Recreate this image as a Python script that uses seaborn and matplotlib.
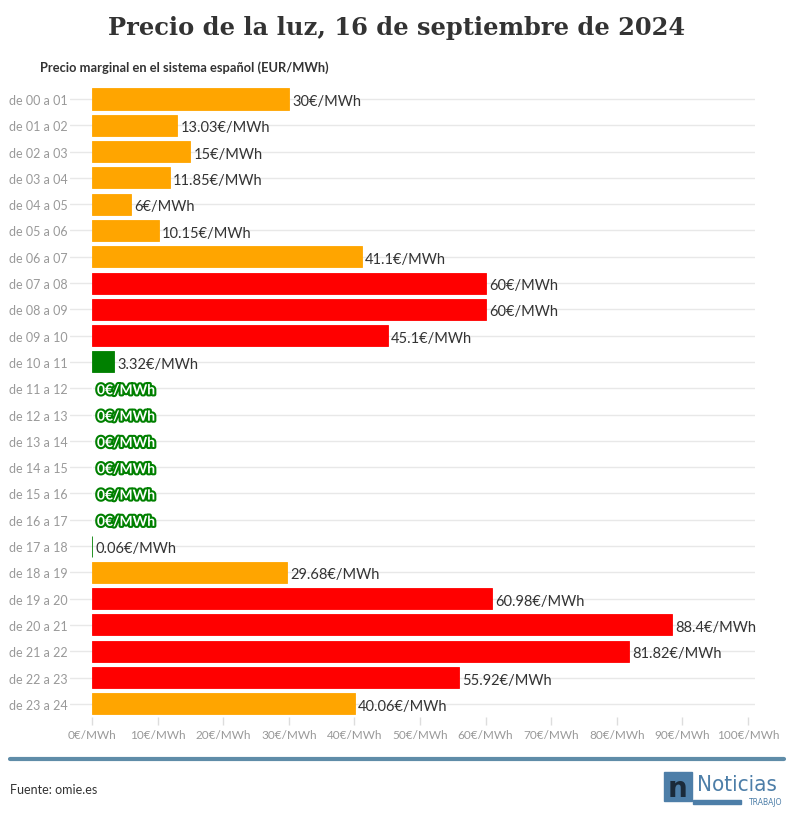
import matplotlib
matplotlib.use("Agg")
import matplotlib.pyplot as plt
import matplotlib.patheffects as pe
from matplotlib.patches import Rectangle
import seaborn as sns
import numpy as np

# Data
hours = [f"de {h:02d} a {h + 1:02d}" for h in range(24)]
prices = [30, 13.03, 15, 11.85, 6, 10.15, 41.1, 60, 60, 45.1, 3.32, 0, 0, 0, 0, 0, 0,
          0.06, 29.68, 60.98, 88.4, 81.82, 55.92, 40.06]
price_labels = ["30", "13.03", "15", "11.85", "6", "10.15", "41.1", "60", "60", "45.1", "3.32",
                "0", "0", "0", "0", "0", "0", "0.06", "29.68", "60.98", "88.4", "81.82",
                "55.92", "40.06"]
x_ticks = list(range(0, 101, 10))

def bar_color(v):
    if v < 5:
        return "#008000"
    if v > 45:
        return "#ff0000"
    return "#ffa500"

colors = [bar_color(v) for v in prices]

sns.set_theme(style="white")
plt.rcParams["font.family"] = ["Lato", "DejaVu Sans"]

fig = plt.figure(figsize=(7.94, 8.2), dpi=100)
ax = fig.add_axes([0.0882, 0.1244, 0.8627, 0.7697])

sns.barplot(x=prices, y=hours, hue=hours, palette=colors, legend=False,
            orient="h", width=0.8, ax=ax, zorder=3, saturation=1)
# thin outline so tiny values (0.06) still show as a sliver
for bar, c, v in zip(ax.patches, colors, prices):
    if v > 0:
        bar.set_edgecolor(c)
        bar.set_linewidth(0.6)

ax.set_xlim(-3.35, 101.07)
ax.set_ylim(23.5, -0.5)
for i in range(24):
    ax.axhline(i, color="#e8e8e8", lw=1, zorder=1)

for s in ax.spines.values():
    s.set_visible(False)

ax.set_xticks(x_ticks)
ax.set_xticklabels([f"{t}€/MWh" for t in x_ticks], color="#999999", fontsize=8.5)
ax.tick_params(axis="x", length=6, color="#dddddd", width=1, pad=3, bottom=True)
ax.tick_params(axis="y", length=0, pad=2, labelsize=9, labelcolor="#999999")
ax.set_xlabel("")
ax.set_ylabel("")

for i, (v, lab) in enumerate(zip(prices, price_labels)):
    if v == 0:
        ax.text(0.75, i + 0.08, f"{lab}€/MWh", va="center", ha="left", fontsize=10,
                fontweight="bold", color="white", zorder=5,
                path_effects=[pe.withStroke(linewidth=3, foreground="#008000")])
    else:
        ax.text(v + 0.5, i + 0.08, f"{lab}€/MWh", va="center", ha="left", fontsize=10.5,
                color="#333333", zorder=5)

fig.text(0.5, 0.966, "Precio de la luz, 16 de septiembre de 2024", ha="center", va="center",
         fontsize=17.4, fontweight="bold", family="DejaVu Serif", color="#333333")
fig.text(0.05, 0.917, "Precio marginal en el sistema español (EUR/MWh)", ha="left",
         va="center", fontsize=9.3, fontweight="bold", color="#333333")

# Footer
fig.add_artist(plt.Line2D([0.0126, 0.987], [0.073, 0.073], color="#5f8ca8", lw=3))
fig.text(0.0126, 0.036, "Fuente: omie.es", ha="left", va="center", fontsize=9,
         color="#333333")
blue = "#4d7ea8"
fig.add_artist(Rectangle((664 / 794, 1 - 802 / 820), 28 / 794, 29 / 820, color=blue,
                         transform=fig.transFigure))
fig.text(678 / 794, 1 - 789 / 820, "n", ha="center", va="center", fontsize=20,
         fontweight="bold", color="#1a2a3a", family="DejaVu Sans")
fig.text(697 / 794, 1 - 785 / 820, "Noticias", ha="left", va="center", fontsize=16,
         color=blue, family="DejaVu Sans", fontstretch="condensed")
fig.add_artist(Rectangle((693 / 794, 1 - 805 / 820), 48 / 794, 4 / 820, color=blue,
                         transform=fig.transFigure))
fig.text(782 / 794, 1 - 803 / 820, "TRABAJO", ha="right", va="center", fontsize=5.5,
         color=blue, family="DejaVu Sans")

fig.savefig("out.png", dpi=100)
